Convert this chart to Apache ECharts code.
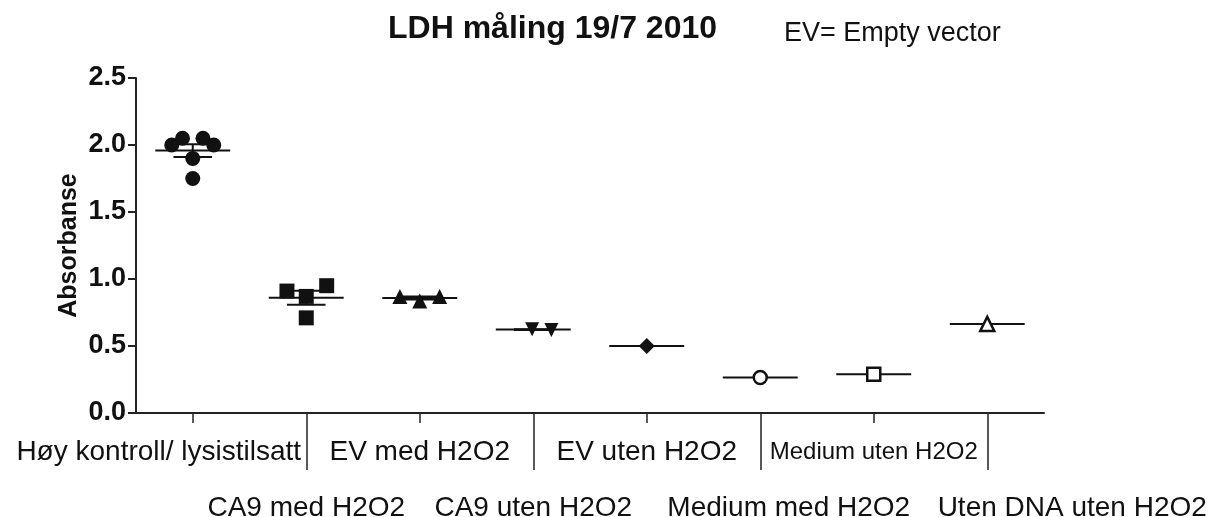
<!DOCTYPE html>
<html><head><meta charset="utf-8">
<script src="https://cdn.jsdelivr.net/npm/echarts/dist/echarts.min.js"></script>
<style>html,body{margin:0;padding:0;background:#fff}#c{width:1215px;height:517px}</style>
</head><body><div id="c"></div>
<script>
// ---- data ----
const categories = ['Høy kontroll/ lysistilsatt','CA9 med H2O2','EV med H2O2','CA9 uten H2O2','EV uten H2O2','Medium med H2O2','Medium uten H2O2','Uten DNA uten H2O2'];
const yTickLabels = ['0.0','0.5','1.0','1.5','2.0','2.5'];
const hoyKontroll = [2.0, 2.05, 2.05, 2.0, 1.9, 1.75];
const ca9Med      = [0.91, 0.95, 0.87, 0.71];
const evMed       = [0.87, 0.87, 0.835];
const ca9Uten     = [0.625, 0.62];
const evUten      = [0.50];
const mediumMed   = [0.265];
const mediumUten  = [0.29];
const utenDna     = [0.665];
// horizontal scatter (jitter) within each category, in category units
const hoyKontrollX = [-0.185, -0.09, 0.09, 0.185, 0, 0];
const ca9MedX      = [-0.17, 0.18, 0, 0];
const evMedX       = [-0.175, 0.175, 0];
const ca9UtenX     = [-0.01, 0.16];
const evUtenX      = [0];
const mediumMedX   = [0];
const mediumUtenX  = [0];
const utenDnaX     = [0];

const groups = [hoyKontroll, ca9Med, evMed, ca9Uten, evUten, mediumMed, mediumUten, utenDna];
const groupsX = [hoyKontrollX, ca9MedX, evMedX, ca9UtenX, evUtenX, mediumMedX, mediumUtenX, utenDnaX];

// ---- styling ----
const FONT = 'Liberation Sans, Arial, Helvetica, sans-serif';
const INK = '#111';
const AX = '#222';
const markers = [
  {symbol:'circle', size:15, open:false, rotate:0},
  {symbol:'rect', size:15, open:false, rotate:0},
  {symbol:'triangle', size:15, open:false, rotate:0},
  {symbol:'triangle', size:14, open:false, rotate:180},
  {symbol:'diamond', size:16, open:false, rotate:0},
  {symbol:'circle', size:13, open:true, rotate:0},
  {symbol:'rect', size:13, open:true, rotate:0},
  {symbol:'triangle', size:14, open:true, rotate:0}
];

function stats(arr){
  const n = arr.length;
  const m = arr.reduce((a,b)=>a+b,0)/n;
  if (n < 2) return [m, 0];
  const v = arr.reduce((a,b)=>a+(b-m)*(b-m),0)/(n-1);
  return [m, Math.sqrt(v/n)];
}
const summary = groups.map((g,i)=>{ const s = stats(g); return [i, s[0], s[1]]; });

const scatterSeries = groups.map((g,i)=>({
  type:'scatter', xAxisIndex:2, yAxisIndex:0, z:3, silent:true,
  symbol: markers[i].symbol, symbolSize: markers[i].size, symbolRotate: markers[i].rotate,
  itemStyle: markers[i].open ? {color:'#fff', borderColor:INK, borderWidth:2.5, opacity:1}
                             : {color:INK, borderWidth:0, opacity:1},
  data: g.map((v,k)=>[i + groupsX[i][k], v])
}));

// a category axis that only carries labels (no line, no ticks)
function labelAxis(showIdx, margin, pad){
  return {type:'category', data:categories, position:'bottom', boundaryGap:true,
    axisLine:{show:false, onZero:false}, axisTick:{show:false}, splitLine:{show:false},
    axisLabel:{show:true, interval:(i)=>i===showIdx, showMinLabel:true, showMaxLabel:true, hideOverlap:false,
      margin:margin, color:INK, fontFamily:FONT, fontSize:28,
      formatter:(v)=>'{p|'+v+'}',
      rich:{p:{fontFamily:FONT, fontSize:28, color:INK, lineHeight:32, padding:pad}}}};
}

const chart = echarts.init(document.getElementById('c'), null, {renderer:'canvas'});
chart.setOption({
  animation:false,
  backgroundColor:'#fff',
  title:[
    {text:'LDH måling 19/7 2010', left:383, top:8,
     textStyle:{fontFamily:FONT, fontSize:32, fontWeight:'bold', color:INK}},
    {text:'EV= Empty vector', left:779, top:15,
     textStyle:{fontFamily:FONT, fontSize:27, fontWeight:'normal', color:INK}}
  ],
  grid:{left:136, right:171, top:78, bottom:104, containLabel:false, outerBoundsMode:'none'},
  xAxis:[
    {type:'category', data:categories, position:'bottom', boundaryGap:true,
     axisLine:{show:true, onZero:false, lineStyle:{color:AX, width:2}},
     axisTick:{show:true, alignWithLabel:true, length:10, interval:(i)=>i%2===0, lineStyle:{color:AX, width:1.5}},
     axisLabel:{show:true, interval:(i)=>i===2||i===4||i===6, showMinLabel:true, showMaxLabel:true, hideOverlap:false,
       margin:23, color:INK, fontFamily:FONT, fontSize:28,
       formatter:(v,i)=> i===6 ? '{s|'+v+'}' : '{n|'+v+'}',
       rich:{
         s:{fontFamily:FONT, fontSize:24, color:INK, lineHeight:32},
         n:{fontFamily:FONT, fontSize:28, color:INK, lineHeight:32}
       }},
     splitLine:{show:false}},
    {type:'category', data:categories, position:'bottom', boundaryGap:true,
     axisLine:{show:false, onZero:false},
     axisTick:{show:true, alignWithLabel:true, length:57, interval:(i)=>i%2===1, lineStyle:{color:AX, width:1.5}},
     axisLabel:{show:true, interval:(i)=>i===1||i===3, showMinLabel:true, showMaxLabel:true, hideOverlap:false,
       margin:79, color:INK, fontFamily:FONT, fontSize:28,
       formatter:(v)=>'{n|'+v+'}',
       rich:{n:{fontFamily:FONT, fontSize:28, color:INK, lineHeight:32}}},
     splitLine:{show:false}},
    {type:'value', position:'top', min:-0.5, max:7.5, show:false,
     axisLine:{show:false, onZero:false}, axisTick:{show:false}, axisLabel:{show:false}, splitLine:{show:false}},
    labelAxis(0, 23, [0,68,0,0]),
    labelAxis(5, 79, [0,0,0,57]),
    labelAxis(7, 79, [0,0,0,170])
  ],
  yAxis:[{
    type:'value', min:0, max:2.5, interval:0.5, position:'left',
    name:'Absorbanse', nameLocation:'middle', nameGap:54, nameRotate:90, nameMoveOverlap:false,
    nameTextStyle:{fontFamily:FONT, fontSize:25, fontWeight:'bold', color:INK},
    axisLine:{show:true, onZero:false, lineStyle:{color:AX, width:2}},
    axisTick:{show:true, length:8, lineStyle:{color:AX, width:2}},
    axisLabel:{margin:10, color:INK, fontFamily:FONT, fontSize:27, fontWeight:'bold',
      formatter:(v)=> yTickLabels[Math.round(v/0.5)]},
    splitLine:{show:false}
  }],
  series:[
    {type:'custom', xAxisIndex:2, yAxisIndex:0, z:2, silent:true,
     data: summary,
     renderItem:(params, api)=>{
       const i = api.value(0), m = api.value(1), s = api.value(2);
       const L = api.coord([i-0.33, m]), R = api.coord([i+0.33, m]);
       const st = {stroke:INK, lineWidth:2};
       const ch = [{type:'line', shape:{x1:L[0], y1:L[1], x2:R[0], y2:R[1]}, style:st}];
       if (s > 0) {
         const t = api.coord([i, m+s]), b = api.coord([i, m-s]);
         const tl = api.coord([i-0.17, m+s]), tr = api.coord([i+0.17, m+s]);
         const bl = api.coord([i-0.17, m-s]), br = api.coord([i+0.17, m-s]);
         ch.push({type:'line', shape:{x1:t[0], y1:t[1], x2:b[0], y2:b[1]}, style:st});
         ch.push({type:'line', shape:{x1:tl[0], y1:tl[1], x2:tr[0], y2:tr[1]}, style:st});
         ch.push({type:'line', shape:{x1:bl[0], y1:bl[1], x2:br[0], y2:br[1]}, style:st});
       }
       return {type:'group', children:ch};
     }}
  ].concat(scatterSeries)
});
</script>
</body></html>
